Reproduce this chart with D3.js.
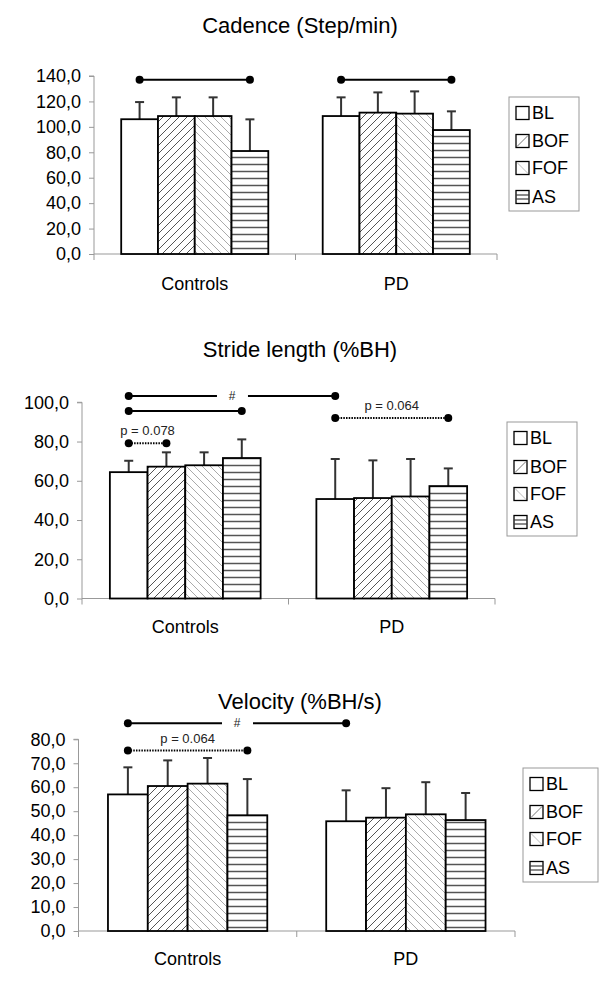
<!DOCTYPE html>
<html><head><meta charset="utf-8">
<script src="https://cdn.jsdelivr.net/npm/d3@7"></script>
<style>
html,body{margin:0;padding:0;background:#fff;}
svg{display:block;font-family:"Liberation Sans",Arial,sans-serif;}
</style></head>
<body><svg id="chart" width="600" height="998"></svg>
<script>
// ---------- DATA ----------
const categories = ["Controls", "PD"];
const series = ["BL", "BOF", "FOF", "AS"];

const cadenceTitle = "Cadence (Step/min)";
const cadenceTicks = [0, 20, 40, 60, 80, 100, 120, 140];
const cadenceControlsMean = [106.0, 108.5, 108.5, 81.0];
const cadenceControlsSD   = [13.5, 14.7, 14.7, 24.9];
const cadencePDMean       = [108.5, 111.2, 110.4, 97.5];
const cadencePDSD         = [14.7, 15.9, 17.5, 14.7];
const cadenceSig = [
  {from: ["Controls", "BL"], to: ["Controls", "AS"], level: 137, style: "solid", label: ""},
  {from: ["PD", "BL"], to: ["PD", "AS"], level: 137, style: "solid", label: ""}
];

const strideTitle = "Stride length (%BH)";
const strideTicks = [0, 20, 40, 60, 80, 100];
const strideControlsMean = [64.4, 67.2, 67.9, 71.6];
const strideControlsSD   = [5.8, 7.3, 6.6, 9.5];
const stridePDMean       = [50.7, 51.2, 52.0, 57.3];
const stridePDSD         = [20.4, 19.2, 19.1, 9.0];
const strideSig = [
  {from: ["Controls", "BL"], to: ["PD", "BL"], level: 103.2, style: "solid", label: "#", gap: true},
  {from: ["Controls", "BL"], to: ["Controls", "AS"], level: 95.6, style: "solid", label: ""},
  {from: ["PD", "BL"], to: ["PD", "AS"], level: 92.0, style: "dotted", label: "p = 0.064"},
  {from: ["Controls", "BL"], to: ["Controls", "BOF"], level: 79.1, style: "dotted", label: "p = 0.078"}
];

const velocityTitle = "Velocity (%BH/s)";
const velocityTicks = [0, 10, 20, 30, 40, 50, 60, 70, 80];
const velocityControlsMean = [57.0, 60.5, 61.5, 48.3];
const velocityControlsSD   = [11.3, 10.7, 10.7, 15.1];
const velocityPDMean       = [45.8, 47.3, 48.7, 46.3];
const velocityPDSD         = [12.9, 12.3, 13.4, 11.3];
const velocitySig = [
  {from: ["Controls", "BL"], to: ["PD", "BL"], level: 86.7, style: "solid", label: "#", gap: true},
  {from: ["Controls", "BL"], to: ["Controls", "AS"], level: 75.3, style: "dotted", label: "p = 0.064"}
];

// ---------- BUILD ----------
function rows(cMean, cSD, pMean, pSD) {
  const out = [];
  series.forEach((s, i) => out.push({group: "Controls", s, mean: cMean[i], sd: cSD[i]}));
  series.forEach((s, i) => out.push({group: "PD", s, mean: pMean[i], sd: pSD[i]}));
  return out;
}

const panels = [
  {title: cadenceTitle, ticks: cadenceTicks, data: rows(cadenceControlsMean, cadenceControlsSD, cadencePDMean, cadencePDSD), sig: cadenceSig,
   titleY: 33, left: 94, right: 497, y0: 254, y1: 76, catY: 290,
   legend: {x: 509, y: 97, w: 70, h: 114, items: [113, 141, 168, 197]}},
  {title: strideTitle, ticks: strideTicks, data: rows(strideControlsMean, strideControlsSD, stridePDMean, stridePDSD), sig: strideSig,
   titleY: 357, left: 82, right: 495, y0: 598.5, y1: 402.3, catY: 633,
   legend: {x: 507, y: 422, w: 70, h: 114, items: [438, 467, 494, 522]}},
  {title: velocityTitle, ticks: velocityTicks, data: rows(velocityControlsMean, velocityControlsSD, velocityPDMean, velocityPDSD), sig: velocitySig,
   titleY: 709, left: 78.5, right: 515, y0: 931, y1: 739.3, catY: 965,
   legend: {x: 523, y: 768, w: 75, h: 114, items: [784, 812, 839, 868]}}
];

const svg = d3.select("#chart");
const defs = svg.append("defs");

function pat(id, w, h, d, color, sw) {
  const p = defs.append("pattern").attr("id", id).attr("patternUnits", "userSpaceOnUse")
    .attr("width", w).attr("height", h);
  p.append("rect").attr("width", w).attr("height", h).attr("fill", "#fff");
  p.append("path").attr("d", d).attr("stroke", color).attr("stroke-width", sw).attr("fill", "none");
}
pat("pBOF", 8, 8, "M0,8 L8,0 M-2,2 L2,-2 M6,10 L10,6", "#555", 1);
pat("pFOF", 8, 8, "M0,0 L8,8 M-2,6 L2,10 M6,-2 L10,2", "#aaa", 1);
pat("pAS", 8, 7, "M0,3.5 L8,3.5", "#555", 1.5);

const fills = {BL: "#fff", BOF: "url(#pBOF)", FOF: "url(#pFOF)", AS: "url(#pAS)"};
// legend swatch hatch (one or two strokes, as in the reference key)
const swatchHatch = {
  BL: [],
  BOF: [{d: "M1,12 L12,1", c: "#777", w: 1}],
  FOF: [{d: "M1,1 L12,12", c: "#bbb", w: 1}],
  AS: [{d: "M0.5,4.5 H12.5 M0.5,8.5 H12.5", c: "#666", w: 1.3}]
};
const fmt = v => d3.format(".1f")(v).replace(".", ",");

panels.forEach(P => {
  const g = svg.append("g");
  const ymax = d3.max(P.ticks);
  const y = d3.scaleLinear().domain([0, ymax]).range([P.y0, P.y1]);
  const x0 = d3.scaleBand().domain(categories).range([P.left, P.right]).padding(0);
  const bw = x0.bandwidth();
  const x1 = d3.scaleBand().domain(series).range([bw * 0.135, bw * 0.865]).padding(0);
  const cx = (grp, s) => x0(grp) + x1(s) + x1.bandwidth() / 2;

  // title
  g.append("text").attr("x", 300).attr("y", P.titleY).attr("text-anchor", "middle")
    .attr("font-size", 22).attr("fill", "#000").text(P.title);

  // y axis
  const ya = g.append("g").attr("transform", `translate(${P.left},0)`)
    .call(d3.axisLeft(y).tickValues(P.ticks).tickFormat(fmt).tickSize(5).tickPadding(8));
  ya.select(".domain").attr("stroke", "#999").attr("d", `M-5,${P.y1}H0V${P.y0}`);
  ya.selectAll(".tick line").attr("stroke", "#999");
  ya.selectAll(".tick text").attr("font-size", 18).attr("fill", "#000")
    .attr("font-family", "Liberation Sans, Arial, sans-serif");

  // x axis
  const xa = g.append("g");
  xa.append("line").attr("x1", P.left).attr("x2", P.right).attr("y1", P.y0).attr("y2", P.y0).attr("stroke", "#999");
  const bounds = categories.map(c => x0(c)).concat([P.right]);
  xa.selectAll("line.tk").data(bounds).join("line").attr("class", "tk")
    .attr("x1", d => d).attr("x2", d => d).attr("y1", P.y0).attr("y2", P.y0 + 6).attr("stroke", "#999");
  xa.selectAll("text").data(categories).join("text")
    .attr("x", d => x0(d) + bw / 2).attr("y", P.catY).attr("text-anchor", "middle")
    .attr("font-size", 18).attr("fill", "#000").text(d => d);

  // error bars
  const eb = g.append("g").attr("stroke", "#333").attr("stroke-width", 2);
  eb.selectAll("line.v").data(P.data).join("line").attr("class", "v")
    .attr("x1", d => cx(d.group, d.s)).attr("x2", d => cx(d.group, d.s))
    .attr("y1", d => y(d.mean)).attr("y2", d => y(d.mean + d.sd));
  eb.selectAll("line.c").data(P.data).join("line").attr("class", "c")
    .attr("x1", d => cx(d.group, d.s) - 4.5).attr("x2", d => cx(d.group, d.s) + 4.5)
    .attr("y1", d => y(d.mean + d.sd)).attr("y2", d => y(d.mean + d.sd));

  // bars
  g.append("g").selectAll("rect").data(P.data).join("rect")
    .attr("x", d => x0(d.group) + x1(d.s)).attr("width", x1.bandwidth())
    .attr("y", d => y(d.mean)).attr("height", d => y(0) - y(d.mean))
    .attr("fill", d => fills[d.s]).attr("stroke", "#000").attr("stroke-width", 1.8);

  // significance
  const sg = g.append("g");
  P.sig.forEach(S => {
    const xa_ = cx(S.from[0], S.from[1]), xb = cx(S.to[0], S.to[1]);
    const yy = y(S.level);
    const dash = S.style === "dotted" ? "1.5,1.2" : null;
    const sw = 2;
    if (S.gap) {
      const mid = (xa_ + xb) / 2;
      [[xa_, mid - 15], [mid + 16, xb]].forEach(([a, b]) =>
        sg.append("line").attr("x1", a).attr("x2", b).attr("y1", yy).attr("y2", yy)
          .attr("stroke", "#000").attr("stroke-width", sw));
      sg.append("text").attr("x", mid).attr("y", yy + 4).attr("text-anchor", "middle")
        .attr("font-size", 12).attr("fill", "#222").text(S.label);
    } else {
      sg.append("line").attr("x1", xa_).attr("x2", xb).attr("y1", yy).attr("y2", yy)
        .attr("stroke", "#000").attr("stroke-width", sw).attr("stroke-dasharray", dash);
      if (S.label) {
        sg.append("text").attr("x", (xa_ + xb) / 2).attr("y", yy - 8).attr("text-anchor", "middle")
          .attr("font-size", 13).attr("fill", "#222").text(S.label);
      }
    }
    [xa_, xb].forEach(px => sg.append("circle").attr("cx", px).attr("cy", yy).attr("r", 4).attr("fill", "#000"));
  });

  // legend
  const L = P.legend;
  const lg = g.append("g");
  lg.append("rect").attr("x", L.x).attr("y", L.y).attr("width", L.w).attr("height", L.h)
    .attr("fill", "#fff").attr("stroke", "#999").attr("stroke-width", 1);
  series.forEach((s, i) => {
    const cy = L.items[i];
    const sx = L.x + 7, sy = cy - 6.5;
    const sw_ = lg.append("g").attr("transform", `translate(${sx},${sy})`);
    sw_.append("rect").attr("width", 13).attr("height", 13).attr("fill", "#fff");
    swatchHatch[s].forEach(h => sw_.append("path").attr("d", h.d).attr("stroke", h.c)
      .attr("stroke-width", h.w).attr("fill", "none"));
    sw_.append("rect").attr("width", 13).attr("height", 13).attr("fill", "none")
      .attr("stroke", "#000").attr("stroke-width", 1.3);
    lg.append("text").attr("x", L.x + 23).attr("y", cy).attr("dy", "0.36em")
      .attr("font-size", 18).attr("fill", "#000").text(s);
  });
});
</script>
</body></html>
